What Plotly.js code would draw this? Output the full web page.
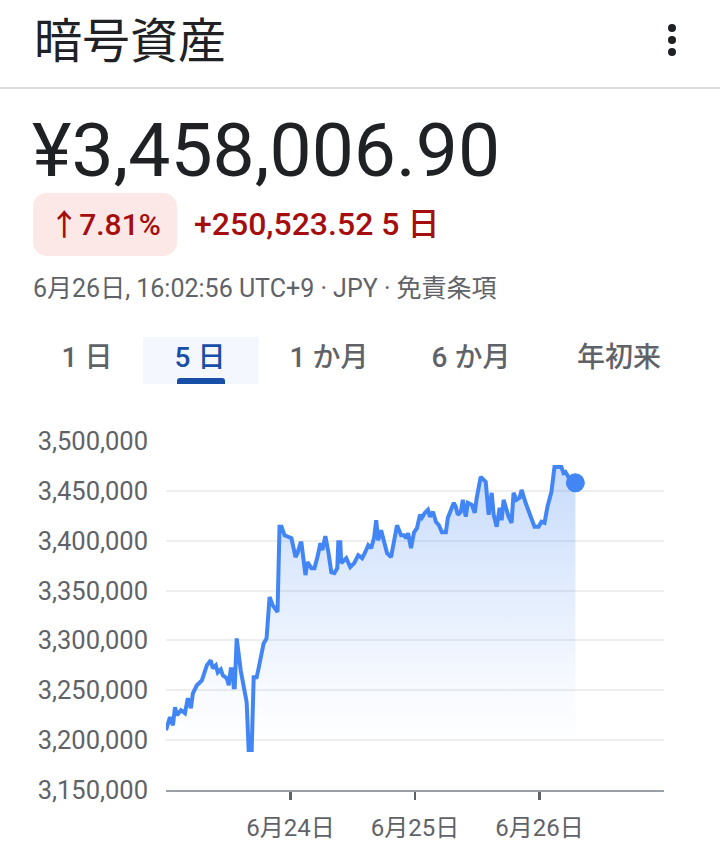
<!DOCTYPE html>
<html lang="ja">
<head>
<meta charset="utf-8">
<script src="https://cdn.plot.ly/plotly-3.0.1.min.js"></script>
<style>
  html, body { margin:0; padding:0; background:#fff; }
  body { width:720px; height:849px; position:relative; overflow:hidden;
         font-family: Roboto, "Noto Sans CJK JP", sans-serif; }
  .abs { position:absolute; white-space:nowrap; }
  #title { left:34px; top:11px; font-size:48px; line-height:52px; color:#202124;
           font-family:"Noto Sans CJK JP", sans-serif; }
  .dot { position:absolute; left:668px; width:8px; height:8px; border-radius:50%; background:#202124; }
  #divider { left:0; top:87px; width:720px; height:2px; background:#dadce0; }
  #price { left:32px; top:113px; font-size:75px; line-height:75px; color:#202124; }
  #badge { left:33px; top:193px; width:144px; height:63px; border-radius:14px; background:#fce8e6;
           color:#a50e0e; font-size:30px; line-height:63px; text-align:center; font-weight:500; }
  #change { left:194px; top:193px; font-size:32px; line-height:63px; color:#a50e0e; font-weight:500; }
  #date { left:33px; top:272px; font-size:25px; line-height:34px; color:#5f6368; }
  #tabbg { left:143px; top:337px; width:116px; height:47px; background:#f4f8fe; }
  #tabbar { left:177px; top:378px; width:48px; height:6px; background:#174ea6; border-radius:3px 3px 0 0; }
  .tab { position:absolute; top:340px; font-size:28px; line-height:36px; color:#5f6368; font-weight:500;
         transform:translateX(-50%); white-space:nowrap; }
  #chart { position:absolute; left:0; top:400px; width:720px; height:449px; }
</style>
</head>
<body>
<div id="title" class="abs">暗号資産</div>
<div class="dot" style="top:24px"></div>
<div class="dot" style="top:36px"></div>
<div class="dot" style="top:48px"></div>
<div id="divider" class="abs"></div>
<div id="price" class="abs">¥3,458,006.90</div>
<div id="badge" class="abs">↑7.81%</div>
<div id="change" class="abs">+250,523.52 5 日</div>
<div id="date" class="abs">6月26日, 16:02:56 UTC+9 · JPY · 免責条項</div>
<div id="tabbg" class="abs"></div>
<div id="tabbar" class="abs"></div>
<div class="tab" style="left:87px">1 日</div>
<div class="tab" style="left:200px;color:#174ea6">5 日</div>
<div class="tab" style="left:329px">1 か月</div>
<div class="tab" style="left:471px">6 か月</div>
<div class="tab" style="left:619px">年初来</div>
<div id="chart"></div>
<script>
// ---- data ----
const times = [
  '2024-06-23 00:00','2024-06-23 00:46','2024-06-23 01:20','2024-06-23 01:44','2024-06-23 02:07',
  '2024-06-23 02:53','2024-06-23 03:39','2024-06-23 04:13','2024-06-23 04:48','2024-06-23 05:11',
  '2024-06-23 05:57','2024-06-23 06:55','2024-06-23 07:52','2024-06-23 08:38','2024-06-23 09:01',
  '2024-06-23 09:36','2024-06-23 09:59','2024-06-23 10:34','2024-06-23 10:57','2024-06-23 11:43',
  '2024-06-23 12:06','2024-06-23 12:29','2024-06-23 12:52','2024-06-23 13:03','2024-06-23 13:15',
  '2024-06-23 13:38','2024-06-23 14:24','2024-06-23 15:33','2024-06-23 15:56','2024-06-23 16:31',
  '2024-06-23 16:54','2024-06-23 17:28','2024-06-23 17:51','2024-06-23 18:26','2024-06-23 18:49',
  '2024-06-23 19:23','2024-06-23 19:58','2024-06-23 20:33','2024-06-23 21:30','2024-06-23 21:53',
  '2024-06-23 22:16','2024-06-23 22:51','2024-06-24 00:11','2024-06-24 00:58','2024-06-24 01:20',
  '2024-06-24 01:55','2024-06-24 02:07','2024-06-24 02:53','2024-06-24 03:16','2024-06-24 04:02',
  '2024-06-24 04:37','2024-06-24 05:11','2024-06-24 05:46','2024-06-24 06:08','2024-06-24 06:43',
  '2024-06-24 07:18','2024-06-24 07:52','2024-06-24 08:27','2024-06-24 09:01','2024-06-24 09:13',
  '2024-06-24 09:36','2024-06-24 09:47','2024-06-24 10:45','2024-06-24 11:31','2024-06-24 12:17',
  '2024-06-24 13:03','2024-06-24 13:49','2024-06-24 14:24','2024-06-24 14:59','2024-06-24 15:33',
  '2024-06-24 16:08','2024-06-24 16:31','2024-06-24 16:54','2024-06-24 17:28','2024-06-24 18:03',
  '2024-06-24 18:37','2024-06-24 19:23','2024-06-24 19:58','2024-06-24 20:32','2024-06-24 21:19',
  '2024-06-24 21:53','2024-06-24 22:16','2024-06-24 22:40','2024-06-24 23:14','2024-06-24 23:49',
  '2024-06-25 00:23','2024-06-25 00:58','2024-06-25 01:20','2024-06-25 01:55','2024-06-25 02:30',
  '2024-06-25 02:53','2024-06-25 03:28','2024-06-25 04:02','2024-06-25 04:37','2024-06-25 05:11',
  '2024-06-25 05:57','2024-06-25 06:20','2024-06-25 07:06','2024-06-25 07:29','2024-06-25 07:52',
  '2024-06-25 08:15','2024-06-25 08:50','2024-06-25 09:13','2024-06-25 09:47','2024-06-25 10:11',
  '2024-06-25 10:57','2024-06-25 11:31','2024-06-25 11:54','2024-06-25 12:40','2024-06-25 13:38',
  '2024-06-25 14:12','2024-06-25 14:47','2024-06-25 15:10','2024-06-25 15:45','2024-06-25 16:19',
  '2024-06-25 16:42','2024-06-25 17:05','2024-06-25 18:03','2024-06-25 18:37','2024-06-25 19:00',
  '2024-06-25 19:35','2024-06-25 20:10','2024-06-25 20:33','2024-06-25 21:19','2024-06-25 22:28',
  '2024-06-25 23:02','2024-06-25 23:49','2024-06-26 00:23','2024-06-26 00:58','2024-06-26 01:32',
  '2024-06-26 02:18','2024-06-26 02:53','2024-06-26 03:39','2024-06-26 04:13','2024-06-26 04:37',
  '2024-06-26 04:59','2024-06-26 05:34','2024-06-26 06:08','2024-06-26 06:55'
];
const prices = [
  3210000,3223000,3215000,3233000,3225000,
  3230000,3227000,3242000,3232000,3247000,
  3255000,3260000,3275000,3280000,3272000,
  3275000,3268000,3271000,3265000,3262000,
  3255000,3271000,3271000,3253000,3253000,
  3302000,3270000,3238000,3190000,3190000,
  3263000,3263000,3272000,3288000,3297000,
  3302000,3343500,3335500,3328500,3414000,
  3414000,3405500,3402500,3383500,3387500,
  3397500,3397500,3365500,3378500,3372500,
  3372500,3383500,3397500,3390500,3404500,
  3388500,3368500,3367500,3372500,3398500,
  3398500,3377500,3382500,3373500,3377500,
  3385500,3382500,3388500,3395500,3392500,
  3403500,3420500,3400500,3410500,3400500,
  3387500,3383500,3397500,3415500,3405500,
  3405500,3402500,3407500,3392500,3408500,
  3412500,3426000,3423000,3428000,3431000,
  3424000,3429000,3419000,3415500,3408500,
  3408500,3423000,3433000,3438000,3434000,
  3426000,3429000,3441000,3424000,3438000,
  3436000,3428000,3443000,3464000,3459000,
  3426000,3448000,3426000,3414000,3433000,
  3420500,3441000,3424000,3418000,3448000,
  3441000,3443000,3451000,3438000,3420500,
  3414000,3414000,3419000,3418000,3434000,
  3449000,3474000,3474000,3474000,3468000,
  3469000,3464000,3461000,3458006.90
];
const tickDates = ['2024-06-24','2024-06-25','2024-06-26'];
const tickLabels = ['6月24日','6月25日','6月26日'];

const lastX = times[times.length - 1];
const lastY = prices[prices.length - 1];
const FONT = 'Roboto, "Noto Sans CJK JP", sans-serif';

const traces = [
  {
    type: 'scatter', mode: 'lines', x: times, y: prices,
    line: { color: '#4285f4', width: 4, shape: 'linear' },
    fill: 'tozeroy',
    fillgradient: {
      type: 'vertical', start: 3195000, stop: 3480000,
      colorscale: [[0, 'rgba(66,133,244,0)'], [0.2, 'rgba(66,133,244,0.04)'], [1, 'rgba(66,133,244,0.30)']]
    },
    hoverinfo: 'skip'
  },
  {
    type: 'scatter', mode: 'markers', x: [lastX], y: [lastY],
    marker: { color: '#4285f4', size: 19 }, hoverinfo: 'skip'
  }
];

const layout = {
  width: 720, height: 449,
  margin: { l: 166, r: 56, t: 41, b: 59 },
  paper_bgcolor: '#ffffff', plot_bgcolor: '#ffffff',
  showlegend: false,
  font: { family: FONT, color: '#5f6368' },
  xaxis: {
    type: 'date', range: ['2024-06-23 00:00', '2024-06-27 00:00'],
    tickmode: 'array', tickvals: tickDates, ticktext: tickLabels,
    ticks: 'outside', ticklen: 8, tickwidth: 2.5, tickcolor: '#5f6368',
    showline: true, linecolor: '#9aa0a6', linewidth: 2,
    showgrid: false, zeroline: false,
    tickfont: { family: FONT, size: 24, color: '#5f6368' },
    ticklabelstandoff: 7, fixedrange: true
  },
  yaxis: {
    range: [3150000, 3500000], dtick: 50000, tick0: 3150000,
    tickformat: ',d', ticks: '', showline: false, zeroline: false,
    showgrid: true, gridcolor: '#eeeeee', gridwidth: 2,
    tickfont: { family: FONT, size: 25.5, color: '#5f6368' },
    ticklabelstandoff: 17, fixedrange: true
  }
};

Plotly.newPlot('chart', traces, layout, { staticPlot: true, displayModeBar: false });
</script>
</body>
</html>
